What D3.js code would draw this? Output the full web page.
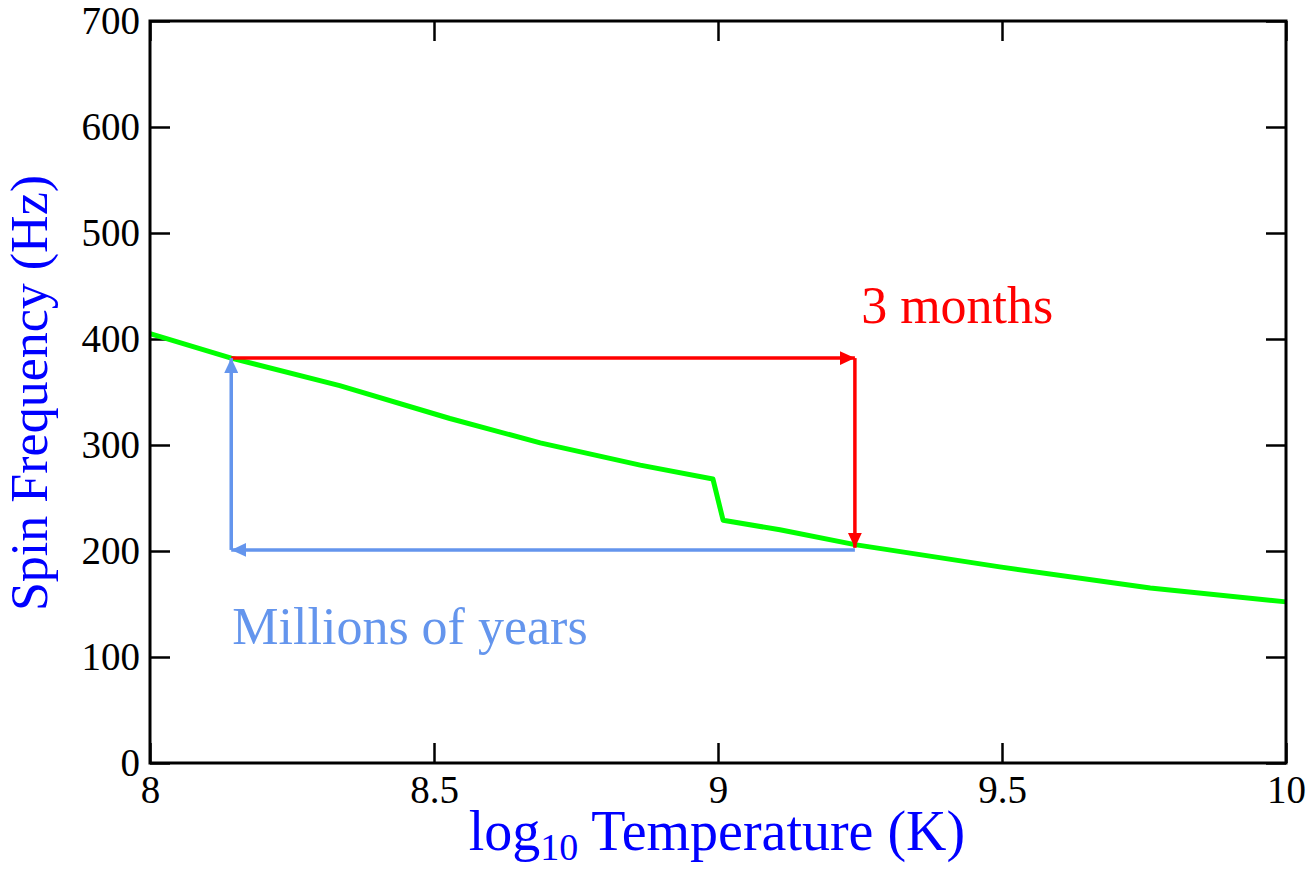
<!DOCTYPE html>
<html>
<head>
<meta charset="utf-8">
<script src="https://cdn.jsdelivr.net/npm/d3@7"></script>
<style>
  body { margin: 0; background: #fff; }
  svg text { font-family: 'Liberation Serif', 'Times New Roman', serif; }
</style>
</head>
<body>
<div id="chart"></div>
<script>
// spin frequency vs log10 temperature
const logTemp = [8.0, 8.143, 8.334, 8.528, 8.687, 8.863, 8.991, 9.009, 9.109, 9.241, 9.496, 9.761, 10.0];
const spinHz = [405, 382, 356, 325, 302, 281, 268, 229, 220, 206, 185, 165, 152];

const xTicks = [8, 8.5, 9, 9.5, 10];
const yTicks = [0, 100, 200, 300, 400, 500, 600, 700];

// annotation arrows: [x, y] pairs in data units
const redArrows = [
  [[8.143, 382], [9.241, 382]],
  [[9.241, 382], [9.241, 203]]
];
const blueArrows = [
  [[9.241, 201], [8.143, 201]],
  [[8.143, 201], [8.143, 382]]
];
const redLabel = {text: '3 months', x: 9.252, y: 415};
const blueLabel = {text: 'Millions of years', x: 8.145, y: 112};

const totalWidth = 1315;
const totalHeight = 870;
const margin = {top: 21, right: 29, bottom: 107, left: 150};
const width = totalWidth - margin.left - margin.right;
const height = totalHeight - margin.top - margin.bottom;
const serif = "'Liberation Serif', 'Times New Roman', serif";

let x = d3.scaleLinear().domain([8, 10]).range([0, width]);
let y = d3.scaleLinear().domain([0, 700]).range([height, 0]);

let svg = d3.select('#chart').append('svg')
    .attr('width', totalWidth)
    .attr('height', totalHeight);

let defs = svg.append('defs');
function arrowMarker(id, color) {
  defs.append('marker')
      .attr('id', id)
      .attr('viewBox', '0 0 15 14')
      .attr('refX', 15)
      .attr('refY', 7)
      .attr('markerWidth', 15)
      .attr('markerHeight', 14)
      .attr('markerUnits', 'userSpaceOnUse')
      .attr('orient', 'auto')
    .append('path')
      .attr('d', 'M0,0L15,7L0,14Z')
      .attr('fill', color);
}
arrowMarker('head-red', '#ff0000');
arrowMarker('head-blue', '#6495ed');

let g = svg.append('g')
    .attr('transform', 'translate(' + margin.left + ',' + margin.top + ')');

// axes, ticks point inward
let axisBottom = g.append('g')
    .attr('transform', 'translate(0,' + height + ')')
    .call(d3.axisBottom(x).tickValues(xTicks).tickSize(-20).tickPadding(12)
      .tickFormat(function(d) { return String(d); }));
let axisTop = g.append('g')
    .call(d3.axisTop(x).tickValues(xTicks).tickSize(-20).tickFormat(''));
let axisLeft = g.append('g')
    .call(d3.axisLeft(y).tickValues(yTicks).tickSize(-20).tickPadding(10));
let axisRight = g.append('g')
    .attr('transform', 'translate(' + width + ',0)')
    .call(d3.axisRight(y).tickValues(yTicks).tickSize(-20).tickFormat(''));

g.selectAll('.domain').remove();
g.selectAll('.tick line').attr('stroke', '#000').attr('stroke-width', 2.5);
g.selectAll('.tick text')
    .attr('fill', '#000')
    .attr('font-family', serif)
    .style('font-family', serif)
    .style('font-size', '39px');

let line = d3.line()
  .x(function(d, i) {
    return x(logTemp[i]);
  })
  .y(function(d) {
    return y(d);
  });

g.append('path')
    .datum(spinHz)
    .attr('fill', 'none')
    .attr('stroke', '#00ff00')
    .attr('stroke-width', 5)
    .attr('stroke-linejoin', 'round')
    .attr('d', line);

let seg = d3.line()
  .x(function(d) { return x(d[0]); })
  .y(function(d) { return y(d[1]); });

g.selectAll('.red-arrow').data(redArrows).enter()
  .append('path')
    .attr('class', 'red-arrow')
    .attr('fill', 'none')
    .attr('stroke', '#ff0000')
    .attr('stroke-width', 3.5)
    .attr('marker-end', 'url(#head-red)')
    .attr('d', seg);

g.selectAll('.blue-arrow').data(blueArrows).enter()
  .append('path')
    .attr('class', 'blue-arrow')
    .attr('fill', 'none')
    .attr('stroke', '#6495ed')
    .attr('stroke-width', 3.5)
    .attr('marker-end', 'url(#head-blue)')
    .attr('d', seg);

// frame
g.append('rect')
    .attr('width', width)
    .attr('height', height)
    .attr('fill', 'none')
    .attr('stroke', '#000')
    .attr('stroke-width', 3);

g.append('text')
    .attr('x', x(redLabel.x))
    .attr('y', y(redLabel.y))
    .attr('fill', '#ff0000')
    .style('font-size', '52px')
    .text(redLabel.text);

g.append('text')
    .attr('x', x(blueLabel.x))
    .attr('y', y(blueLabel.y))
    .attr('fill', '#6495ed')
    .style('font-size', '52px')
    .text(blueLabel.text);

// axis titles
let xTitle = svg.append('text')
    .attr('x', 717)
    .attr('y', 850)
    .attr('text-anchor', 'middle')
    .attr('fill', '#0000ff')
    .style('font-size', '56px');
xTitle.append('tspan').text('log');
xTitle.append('tspan').attr('dy', 10).style('font-size', '38px').text('10');
xTitle.append('tspan').attr('dy', -10).text(' Temperature (K)');

svg.append('text')
    .attr('transform', 'translate(47,' + 393 + ') rotate(-90)')
    .attr('text-anchor', 'middle')
    .attr('fill', '#0000ff')
    .style('font-size', '52px')
    .text('Spin Frequency (Hz)');
</script>
</body>
</html>
